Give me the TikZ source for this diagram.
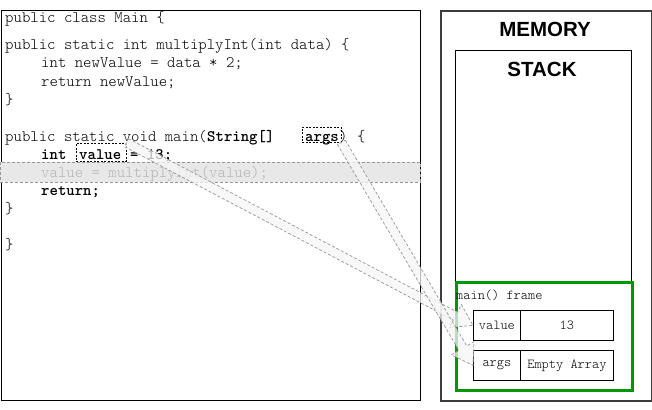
\documentclass[tikz,border=0pt]{standalone}
\usepackage{fontspec}
\setmainfont{Liberation Serif}
\setsansfont{Liberation Sans}
\setmonofont{Latin Modern Mono Light}
\usetikzlibrary{calc}
\definecolor{framegreen}{RGB}{0,153,0}
\definecolor{bandgray}{RGB}{232,232,232}
\definecolor{lighttext}{RGB}{180,180,180}
\definecolor{dashgray}{RGB}{150,150,150}
\definecolor{memgray}{RGB}{60,60,60}
\tikzset{
  code/.style={font=\fontsize{16}{18}\ttfamily, anchor=base west, inner sep=0pt},
  codeb/.style={code, font=\fontsize{16}{18}\ttfamily\bfseries},
  dashbox/.style={draw, dashed, dash pattern=on 2pt off 1.5pt, inner sep=0pt, line width=0.8pt},
  cell/.style={draw, line width=0.8pt, inner sep=0pt, font=\fontsize{13.7}{15}\ttfamily},
  title/.style={font=\fontsize{20.5}{22}\sffamily\bfseries, inner sep=0pt},
  flex/.style={draw=dashgray, dashed, dash pattern=on 3pt off 2pt, line width=0.7pt, fill=gray!7, fill opacity=0.75, line join=miter},
}
\newcommand\flexarr[3]{% tail, tip, helper name
  \coordinate (#3) at ($(#2)!20pt!(#1)$);
  \draw[flex] ($(#1)!4.5pt!90:(#2)$) -- ($(#3)!4.5pt!90:(#2)$) -- ($(#3)!13pt!90:(#2)$) -- (#2)
    -- ($(#3)!13pt!-90:(#2)$) -- ($(#3)!4.5pt!-90:(#2)$) -- ($(#1)!4.5pt!-90:(#2)$) -- cycle;
}
\begin{document}
\begin{tikzpicture}[x=1pt,y=-1pt]
\useasboundingbox (0,0) rectangle (652,409);
% code box
\node[draw, line width=1pt, inner sep=0pt, minimum width=419.5pt, minimum height=390pt, anchor=north west] (codebox) at (0.5,10) {};
% highlighted band
\node[draw=dashgray, dashed, dash pattern=on 3pt off 2pt, fill=bandgray, line width=0.6pt, inner sep=0pt, minimum width=420pt, minimum height=20pt, anchor=north west] (band) at (0,162) {};
% code lines
\node[code] (l1) at (5,23) {public class Main \{};
\node[code] (l2) at (5,50) {public static int multiplyInt(int data) \{};
\node[code] (l3) at (41,68) {int newValue = data * 2;};
\node[code] (l4) at (41,87) {return newValue;};
\node[code] (l5) at (5,105) {\}};
\node[code] (l6a) at (5,141) {public static void main(};
\node[codeb] (l6b) at (l6a.base east) {String[]};
\node[codeb] (l6c) at (305,141) {args};
\node[code] (l6d) at (339,141) {)};
\node[code] (l6e) at (357,141) {\{};
\node[codeb] (l7a) at (41,159) {int};
\node[codeb] (l7b) at (79,159) {value};
\node[codeb] (l7c) at (130,159) {= 13;};
\node[code, text=lighttext] (l8) at (41,177) {value = multiplyInt(value);};
\node[codeb] (l9) at (41,195) {return;};
\node[code] (l10) at (5,213) {\}};
\node[code] (l11) at (5,249) {\}};
% dashed boxes
\node[dashbox, minimum width=39pt, minimum height=15pt] (argsbox) at (321.5,134.5) {};
\node[dashbox, minimum width=50pt, minimum height=18pt] (valbox) at (101,152) {};
% memory
\node[draw=memgray, line width=2pt, inner sep=0pt, minimum width=211pt, minimum height=390pt, anchor=north west] (memory) at (440,10) {};
\node[title] (memt) at (545,29) {MEMORY};
\node[draw, line width=0.8pt, inner sep=0pt, minimum width=176pt, minimum height=340pt, anchor=north west] (stack) at (455,50) {};
\node[title] (stackt) at (542,69) {STACK};
\node[draw=framegreen, line width=3pt, inner sep=0pt, minimum width=176pt, minimum height=108pt, anchor=north west] (frame) at (455,281) {};
\node[font=\fontsize{13.7}{15}\ttfamily, anchor=west, inner sep=0pt] (framet) at (456,295) {main() frame};
\node[cell, minimum width=47pt, minimum height=30pt, anchor=north west] (vname) at (473,310) {value};
\node[cell, minimum width=93pt, minimum height=30pt, anchor=north west] (vval) at (520,310) {13};
\node[cell, minimum width=47pt, minimum height=30pt, anchor=north west] (aname) at (473,350) {args};
\node[cell, minimum width=93pt, minimum height=30pt, anchor=north west] (aval) at (520,350) {Empty Array};
% arrows
\coordinate (t1) at (valbox.north east);
\coordinate (h1) at (vname.west);
\coordinate (t2) at (argsbox.south east);
\coordinate (h2) at (aname.west);
\flexarr{t1}{h1}{c1}
\flexarr{t2}{h2}{c2}
\end{tikzpicture}
\end{document}
